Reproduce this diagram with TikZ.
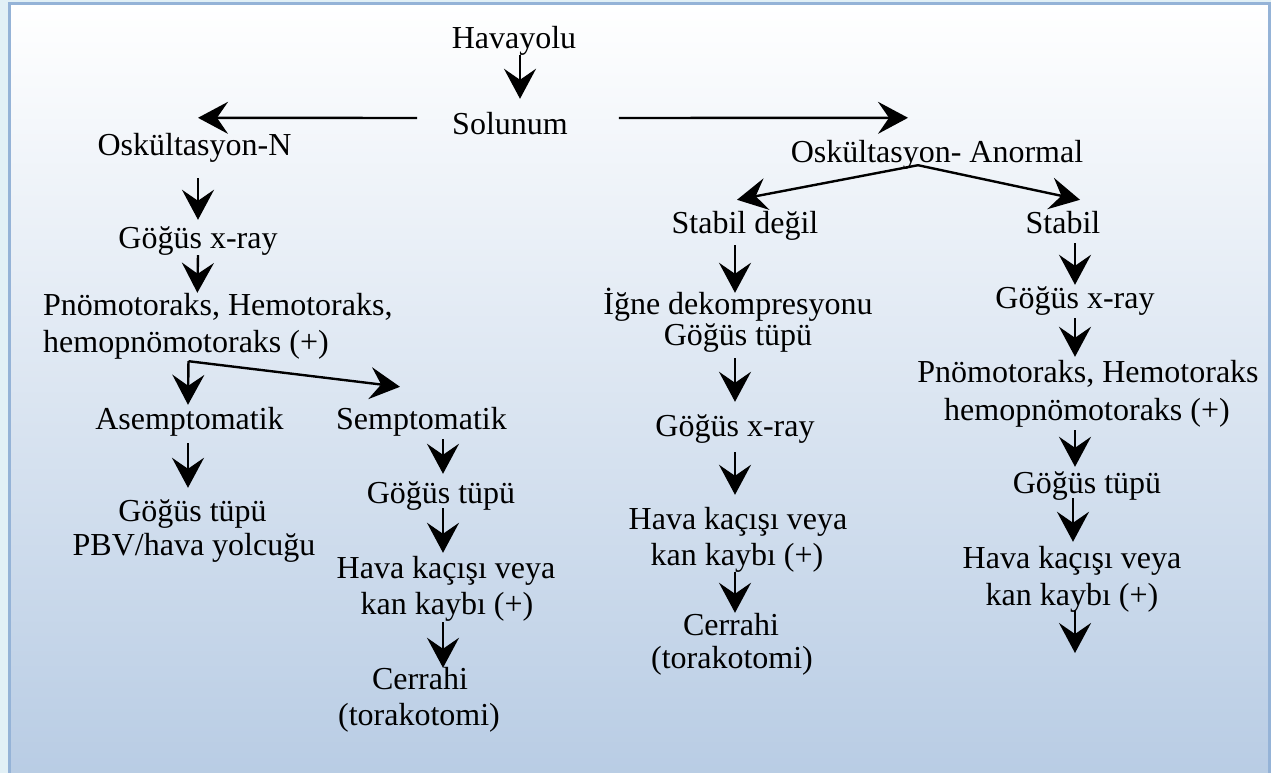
\documentclass[tikz,border=0pt]{standalone}
\usepackage{fontspec}
\setmainfont{Liberation Serif}
\usetikzlibrary{arrows.meta}
\definecolor{framecol}{RGB}{149,179,215}
\definecolor{shadebot}{RGB}{184,204,228}
\definecolor{margincol}{RGB}{226,240,246}
\begin{document}
\begin{tikzpicture}[x=1pt,y=-1pt,
  lbl/.style={inner sep=0pt,text height=23pt,text depth=7pt,anchor=base,
    font=\fontsize{32}{37}\selectfont},
  lblw/.style={lbl,anchor=base west},
  arr/.style={line width=2.4pt,-{Stealth[length=30pt,width=32pt,inset=11pt]}}]
\useasboundingbox (0,0) rectangle (1271,773);
% background panel with vertical gradient
\fill[margincol] (0,0) rectangle (1271,773);
\shade[top color=white,bottom color=shadebot] (9,4) rectangle (1269,780);
\draw[framecol,line width=3pt] (9,780) -- (9,4) -- (1269,4) -- (1269,780);

% top of the chart
\node[lbl] (hav) at (514,49) {Havayolu};
\node[lbl] (sol) at (510,135) {Solunum};
\node[lbl] (oskn) at (194.5,155) {Oskültasyon-N};
\node[lbl] (oska) at (937,162) {Oskültasyon- Anormal};

% left branch
\node[lbl] (gxl) at (198,248) {Göğüs x-ray};
\node[lblw] (pnl1) at (43,315) {Pnömotoraks, Hemotoraks,};
\node[lblw] (pnl2) at (43,352) {hemopnömotoraks (+)};
\node[lbl] (asem) at (189.5,429) {Asemptomatik};
\node[lbl] (sem) at (421.5,429) {Semptomatik};
\node[lbl] (gta1) at (192.5,521) {Göğüs tüpü};
\node[lbl] (gta2) at (194,555) {PBV/hava yolcuğu};
\node[lbl] (gts) at (441,503) {Göğüs tüpü};
\node[lbl] (hks1) at (446,578) {Hava kaçışı veya};
\node[lbl] (hks2) at (447,614) {kan kaybı (+)};
\node[lbl] (cs1) at (420,689) {Cerrahi};
\node[lbl] (cs2) at (419,725) {(torakotomi)};

% middle branch
\node[lbl] (sd) at (745,233) {Stabil değil};
\node[lbl] (ig1) at (738,314) {İğne dekompresyonu};
\node[lbl] (ig2) at (738,345) {Göğüs tüpü};
\node[lbl] (gxm) at (735,436) {Göğüs x-ray};
\node[lbl] (hkm1) at (738,529) {Hava kaçışı veya};
\node[lbl] (hkm2) at (737,565) {kan kaybı (+)};
\node[lbl] (cm1) at (731,635) {Cerrahi};
\node[lbl] (cm2) at (732,668) {(torakotomi)};

% right branch
\node[lbl] (st) at (1063,233) {Stabil};
\node[lbl] (gxr) at (1075,308) {Göğüs x-ray};
\node[lbl] (pnr1) at (1088,382) {Pnömotoraks, Hemotoraks};
\node[lbl] (pnr2) at (1087,420) {hemopnömotoraks (+)};
\node[lbl] (gtr) at (1087,493) {Göğüs tüpü};
\node[lbl] (hkr1) at (1072,568) {Hava kaçışı veya};
\node[lbl] (hkr2) at (1072,605) {kan kaybı (+)};
\coordinate (endr) at (1075,653);

% connectors, top
\draw[arr] ([xshift=6pt,yshift=1pt]hav.south) -- ([xshift=10pt,yshift=13pt]sol.north);
\draw[arr] ([xshift=-35pt,yshift=9pt]sol.west) -- ([xshift=3.5pt,yshift=14pt]oskn.north);
\draw[arr] ([xshift=51pt,yshift=9pt]sol.east) -- ([xshift=-29pt,yshift=21pt]oska.north);

% connectors, left branch
\draw[arr] ([xshift=3.5pt,yshift=-16pt]oskn.south) -- ([yshift=5pt]gxl.north);
\draw[arr] ([yshift=0pt]gxl.south) -- ([xshift=-20.5pt,yshift=-1pt]pnl1.north);
\draw[arr] ([xshift=2.5pt,yshift=-2pt]pnl2.south) -- ([xshift=-1.5pt,yshift=1pt]asem.north);
\draw[arr] ([xshift=2.5pt,yshift=-2pt]pnl2.south) -- ([xshift=-21.5pt,yshift=19pt]sem.north);
\draw[arr] ([xshift=-1.5pt,yshift=-7pt]asem.south) -- ([xshift=-4.5pt,yshift=10pt]gta1.north);
\draw[arr] ([xshift=21.5pt,yshift=-3pt]sem.south) -- ([xshift=2pt,yshift=6pt]gts.north);
\draw[arr] ([xshift=2pt,yshift=2pt]gts.south) -- ([xshift=-3pt,yshift=2pt]hks1.north);
\draw[arr] ([xshift=-4pt,yshift=-1pt]hks2.south) -- ([xshift=23pt,yshift=-2pt]cs1.north);

% connectors, abnormal auscultation
\draw[arr] ([xshift=-19pt,yshift=4pt]oska.south) -- ([xshift=-8pt,yshift=10pt]sd.north);
\draw[arr] ([xshift=-19pt,yshift=4pt]oska.south) -- ([xshift=17pt,yshift=10pt]st.north);

% connectors, middle branch
\draw[arr] ([xshift=-10pt,yshift=-5pt]sd.south) -- ([xshift=-3pt,yshift=-2pt]ig1.north);
\draw[arr] ([xshift=-3pt,yshift=-6pt]ig2.south) -- ([yshift=11pt]gxm.north);
\draw[arr] ([yshift=-9pt]gxm.south) -- ([xshift=-3pt,yshift=11pt]hkm1.north);
\draw[arr] ([xshift=-2pt,yshift=0pt]hkm2.south) -- ([xshift=4pt,yshift=-1pt]cm1.north);

% connectors, right branch
\draw[arr] ([xshift=12pt,yshift=-3pt]st.south) -- ([yshift=0pt]gxr.north);
\draw[arr] ([yshift=-3pt]gxr.south) -- ([xshift=-13pt,yshift=2pt]pnr1.north);
\draw[arr] ([xshift=-12pt,yshift=-3pt]pnr2.south) -- ([xshift=-12pt,yshift=3pt]gtr.north);
\draw[arr] ([xshift=-14pt,yshift=2pt]gtr.south) -- ([xshift=1pt,yshift=3pt]hkr1.north);
\draw[arr] ([xshift=3pt,yshift=2pt]hkr2.south) -- (endr);
\end{tikzpicture}
\end{document}
